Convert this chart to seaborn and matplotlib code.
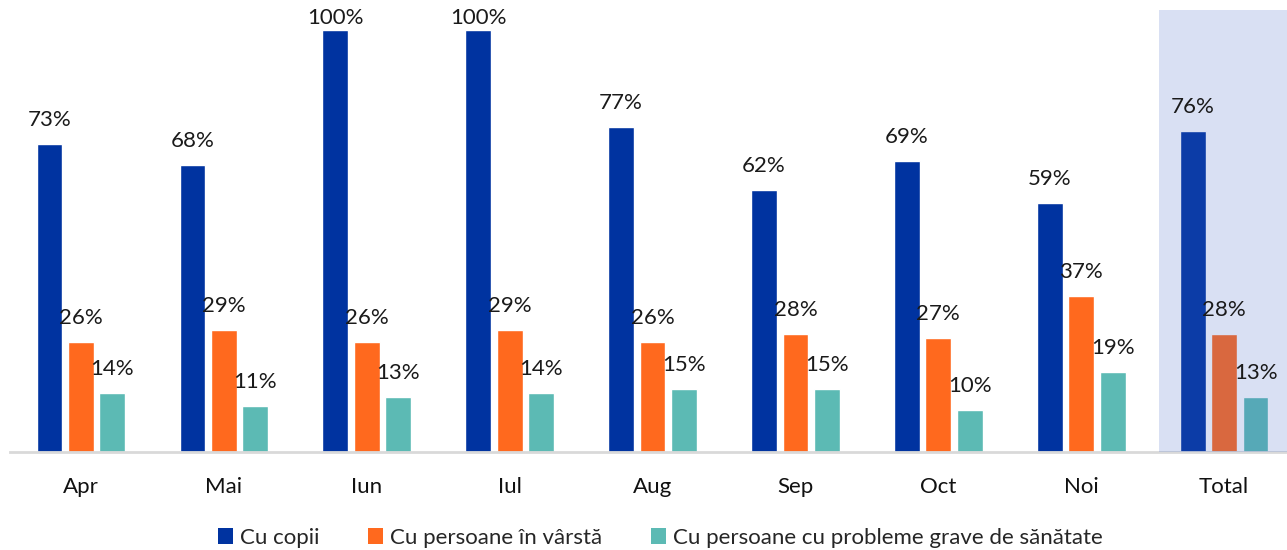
import matplotlib
matplotlib.use("Agg")
import matplotlib.pyplot as plt
import seaborn as sns
import pandas as pd
from matplotlib.patches import Patch

categories = ["Apr", "Mai", "Iun", "Iul", "Aug", "Sep", "Oct", "Noi", "Total"]
series_names = ["Cu copii", "Cu persoane în vârstă", "Cu persoane cu probleme grave de sănătate"]
cu_copii = [73, 68, 100, 100, 77, 62, 69, 59, 76]
cu_varstnici = [26, 29, 26, 29, 26, 28, 27, 37, 28]
cu_probleme = [14, 11, 13, 14, 15, 15, 10, 19, 13]
colors = ["#0033A0", "#FF691E", "#5CBAB4"]

rows = []
for name, vals in zip(series_names, [cu_copii, cu_varstnici, cu_probleme]):
    for c, v in zip(categories, vals):
        rows.append({"cat": c, "serie": name, "val": v})
df = pd.DataFrame(rows)

sns.set_style("white")
plt.rcParams["font.family"] = ["Lato", "DejaVu Sans"]

fig = plt.figure(figsize=(12.87, 5.5), dpi=100)
ax = fig.add_axes([9.5 / 1287, 1 - 452 / 550, (1287 - 9.5) / 1287, (452 - 10) / 550])

sns.barplot(data=df, x="cat", y="val", hue="serie", order=categories,
            hue_order=series_names, palette=colors, width=0.66, gap=0.18,
            saturation=1, ax=ax, legend=False, zorder=2)

for cont in ax.containers:
    labels = ax.bar_label(cont, fmt="{:.0f}%", padding=10, fontsize=16, color="#1a1a1a")
    for t, bar in zip(labels, cont):
        t.set_zorder(5)
        if bar.get_height() >= 95:
            t.xyann = (0, 1)

ax.set_xlim(-0.5, 8.44)
ax.set_ylim(0, 104.7)
ax.axvspan(7.545, 8.44, color="#4165C6", alpha=0.2, zorder=4, lw=0)

ax.set_yticks([])
ax.set_xlabel("")
ax.set_ylabel("")
for s in ["top", "right", "left"]:
    ax.spines[s].set_visible(False)
ax.spines["bottom"].set_color("#D9D9D9")
ax.spines["bottom"].set_linewidth(2)
ax.tick_params(axis="x", length=0, pad=18, labelsize=16, labelcolor="#111111")

handles = [Patch(facecolor=c, edgecolor="none") for c in colors]
fig.legend(handles, series_names, loc="center", bbox_to_anchor=(0.513, 0.022),
           ncol=3, frameon=False, fontsize=16, handlelength=0.68, handleheight=0.68,
           handletextpad=0.3, columnspacing=2.2)

fig.savefig("out.png", dpi=100)
